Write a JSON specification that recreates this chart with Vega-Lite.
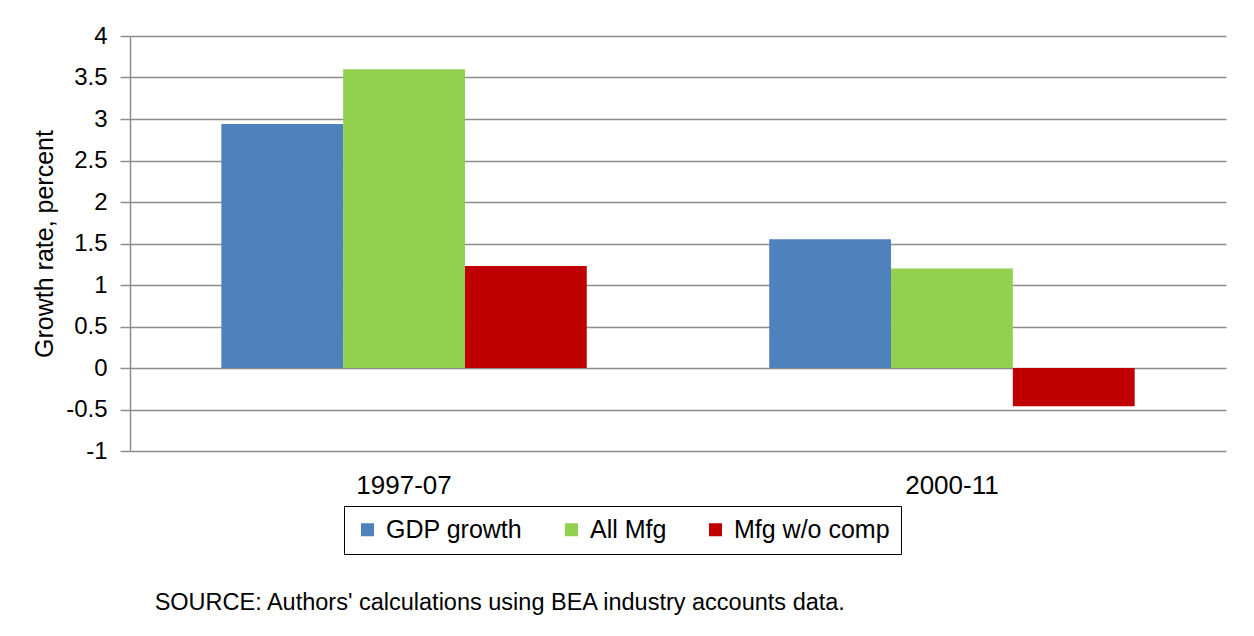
{
  "$schema": "https://vega.github.io/schema/vega-lite/v6.json",
  "autosize": {"type": "none"},
  "padding": {"left": 130, "top": 36, "right": 28, "bottom": 185},
  "width": 1096,
  "height": 415,
  "background": "white",
  "title": {
    "text": "SOURCE:  Authors' calculations using BEA industry accounts data.",
    "orient": "bottom",
    "anchor": "start",
    "dx": 122,
    "offset": 36,
    "font": "Liberation Sans",
    "fontSize": 23.5,
    "fontWeight": "normal",
    "color": "black"
  },
  "data": {
    "values": [
      {"period": "1997-07", "series": "GDP growth", "rate": 2.94},
      {"period": "1997-07", "series": "All Mfg", "rate": 3.6},
      {"period": "1997-07", "series": "Mfg w/o comp", "rate": 1.23},
      {"period": "2000-11", "series": "GDP growth", "rate": 1.55},
      {"period": "2000-11", "series": "All Mfg", "rate": 1.2},
      {"period": "2000-11", "series": "Mfg w/o comp", "rate": -0.46}
    ]
  },
  "mark": {"type": "bar"},
  "encoding": {
    "x": {
      "field": "period",
      "type": "nominal",
      "title": null,
      "scale": {"paddingInner": 0.333, "paddingOuter": 0.1667},
      "axis": {
        "labelAngle": 0,
        "domain": false,
        "ticks": false,
        "labelPadding": 21,
        "labelFont": "Liberation Sans",
        "labelFontSize": 26,
        "labelColor": "black"
      }
    },
    "xOffset": {
      "field": "series",
      "type": "nominal",
      "sort": ["GDP growth", "All Mfg", "Mfg w/o comp"],
      "scale": {"paddingInner": 0, "paddingOuter": 0}
    },
    "y": {
      "field": "rate",
      "type": "quantitative",
      "title": "Growth rate, percent",
      "scale": {"domain": [-1, 4], "nice": false},
      "axis": {
        "values": [-1, -0.5, 0, 0.5, 1, 1.5, 2, 2.5, 3, 3.5, 4],
        "format": "~g",
        "labelExpr": "replace(datum.label, '\u2212', '-')",
        "grid": true,
        "gridColor": "#8c8c8c",
        "gridWidth": 1.5,
        "domainColor": "#8c8c8c",
        "domainWidth": 1.5,
        "tickColor": "#8c8c8c",
        "tickWidth": 1.5,
        "tickSize": 10,
        "labelPadding": 13,
        "labelFont": "Liberation Sans",
        "labelFontSize": 24,
        "labelColor": "black",
        "titleFont": "Liberation Sans",
        "titleFontSize": 25,
        "titleFontWeight": "normal",
        "titleColor": "black",
        "titlePadding": 8
      }
    },
    "color": {
      "field": "series",
      "type": "nominal",
      "sort": ["GDP growth", "All Mfg", "Mfg w/o comp"],
      "scale": {
        "domain": ["GDP growth", "All Mfg", "Mfg w/o comp"],
        "range": ["#4F81BD", "#92D050", "#C00000"]
      },
      "legend": {
        "title": null,
        "orient": "none",
        "direction": "horizontal",
        "legendX": 214,
        "legendY": 470,
        "symbolType": "square",
        "symbolSize": 169,
        "symbolStrokeWidth": 0,
        "labelFont": "Liberation Sans",
        "labelFontSize": 25,
        "labelColor": "black",
        "labelOffset": 6,
        "columnPadding": 36,
        "padding": 11,
        "strokeColor": "black",
        "cornerRadius": 0
      }
    }
  },
  "config": {
    "view": {"stroke": null}
  }
}
